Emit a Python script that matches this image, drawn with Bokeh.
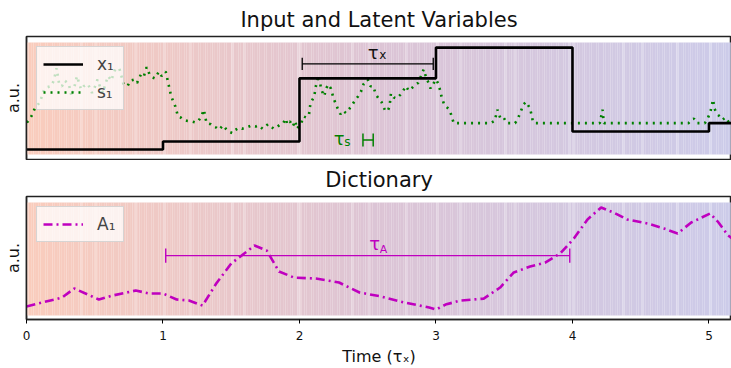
import numpy as np
from bokeh.plotting import figure
from bokeh.layouts import column
from bokeh.models import Range1d, FixedTicker
from bokeh.core.properties import value
from bokeh.embed import file_html
from bokeh.resources import INLINE

# ---------------- data ----------------
x1_t = [0, 1, 2, 3, 4, 5, 5.17]
x1_v = [0.045, 0.116, 0.68, 0.955, 0.205, 0.28, 0.28]

s1_t = [0.00, 0.01, 0.04, 0.06, 0.08, 0.10, 0.12, 0.13, 0.15, 0.18, 0.20, 0.22, 0.23, 0.24,
        0.26, 0.28, 0.31, 0.33, 0.35, 0.37, 0.40, 0.42, 0.45, 0.48, 0.50, 0.52, 0.54, 0.56,
        0.58, 0.60, 0.62, 0.65, 0.68, 0.70, 0.71, 0.74, 0.76, 0.79, 0.81, 0.84, 0.86, 0.88,
        0.90, 0.92, 0.94, 0.97, 0.99, 1.02, 1.04, 1.06, 1.09, 1.11, 1.13, 1.15, 1.18, 1.21,
        1.24, 1.26, 1.28, 1.30, 1.31, 1.32, 1.35, 1.37, 1.39, 1.41, 1.44, 1.46, 1.48, 1.51,
        1.53, 1.56, 1.58, 1.61, 1.63, 1.65, 1.68, 1.70, 1.73, 1.75, 1.77, 1.79, 1.81, 1.84,
        1.86, 1.88, 1.90, 1.91, 1.93, 1.95, 1.97, 1.98, 2.01, 2.03, 2.05, 2.07, 2.08, 2.10,
        2.11, 2.12, 2.14, 2.16, 2.18, 2.20, 2.21, 2.23, 2.25, 2.28, 2.30, 2.32, 2.34, 2.36,
        2.38, 2.41, 2.43, 2.45, 2.47, 2.50, 2.52, 2.54, 2.56, 2.58, 2.60, 2.63, 2.65, 2.66,
        2.67, 2.69, 2.71, 2.74, 2.76, 2.78, 2.80, 2.82, 2.85, 2.87, 2.89, 2.91, 2.93, 2.94,
        2.96, 2.98, 3.00, 3.02, 3.04, 3.06, 3.09, 3.11, 3.13, 3.20, 3.30, 3.40, 3.43, 3.45,
        3.47, 3.49, 3.52, 3.58, 3.60, 3.62, 3.64, 3.66, 3.69, 3.71, 3.72, 3.90, 4.10, 4.20,
        4.21, 4.22, 4.23, 4.50, 4.85, 4.87, 4.89, 4.91, 4.97, 4.99, 5.01, 5.03, 5.04, 5.06,
        5.08, 5.10, 5.12, 5.15, 5.17]
s1_v = [0.29, 0.295, 0.35, 0.41, 0.44, 0.47, 0.55, 0.58, 0.60, 0.61, 0.66, 0.77, 0.70, 0.62,
        0.61, 0.66, 0.63, 0.52, 0.60, 0.70, 0.58, 0.61, 0.63, 0.55, 0.60, 0.67, 0.60, 0.55,
        0.64, 0.70, 0.66, 0.76, 0.77, 0.68, 0.63, 0.61, 0.66, 0.67, 0.64, 0.72, 0.70, 0.78,
        0.72, 0.69, 0.68, 0.74, 0.70, 0.74, 0.63, 0.52, 0.43, 0.34, 0.33, 0.31, 0.30, 0.295,
        0.285, 0.30, 0.34, 0.40, 0.33, 0.28, 0.27, 0.25, 0.24, 0.22, 0.26, 0.23, 0.205, 0.19,
        0.22, 0.24, 0.23, 0.24, 0.25, 0.26, 0.25, 0.26, 0.23, 0.25, 0.27, 0.25, 0.23, 0.25,
        0.27, 0.28, 0.32, 0.27, 0.295, 0.25, 0.30, 0.23, 0.27, 0.34, 0.33, 0.36, 0.455, 0.50,
        0.535, 0.61, 0.705, 0.58, 0.52, 0.60, 0.625, 0.59, 0.50, 0.41, 0.36, 0.39, 0.37, 0.40,
        0.43, 0.49, 0.52, 0.56, 0.63, 0.67, 0.61, 0.61, 0.535, 0.50, 0.47, 0.385, 0.40, 0.43,
        0.545, 0.51, 0.50, 0.535, 0.57, 0.61, 0.57, 0.59, 0.625, 0.64, 0.70, 0.76, 0.68, 0.655,
        0.59, 0.63, 0.67, 0.625, 0.52, 0.445, 0.41, 0.36, 0.28, 0.28, 0.28, 0.28, 0.30, 0.40,
        0.33, 0.34, 0.28, 0.28, 0.32, 0.38, 0.445, 0.47, 0.41, 0.295, 0.28, 0.28, 0.28, 0.28,
        0.34, 0.40, 0.28, 0.28, 0.28, 0.31, 0.32, 0.28, 0.28, 0.32, 0.38, 0.49, 0.41, 0.36,
        0.34, 0.31, 0.33, 0.28, 0.28]

a1_t = [0.00, 0.26, 0.35, 0.53, 0.63, 0.80, 0.90, 1.00, 1.10, 1.19, 1.29, 1.39, 1.50, 1.67,
        1.76, 1.85, 1.96, 2.12, 2.29, 2.44, 2.60, 2.77, 2.95, 3.00, 3.07, 3.18, 3.35, 3.47,
        3.57, 3.69, 3.80, 3.91, 4.01, 4.11, 4.21, 4.30, 4.40, 4.55, 4.67, 4.77, 4.87, 5.01,
        5.07, 5.14, 5.17]
a1_v = [0.080, 0.159, 0.239, 0.142, 0.177, 0.221, 0.195, 0.195, 0.142, 0.133, 0.088, 0.283,
        0.460, 0.619, 0.575, 0.389, 0.336, 0.327, 0.292, 0.204, 0.168, 0.115, 0.071, 0.053,
        0.097, 0.133, 0.150, 0.248, 0.381, 0.434, 0.469, 0.549, 0.681, 0.850, 0.956, 0.912,
        0.850, 0.814, 0.770, 0.726, 0.823, 0.903, 0.823, 0.708, 0.681]

tau_x_span = [2.02, 2.98]
tau_s_span = [2.465, 2.54]
tau_a_span = [1.02, 3.98]
x_ticks = [0, 1, 2, 3, 4, 5]

# ---------------- styling helpers ----------------
FONT = value("DejaVu Sans")
GREEN = "#008000"
MAG = "#bf00bf"
X_END = 5.165
stops_t = [0.0, 2.58, 5.17]
stops_c = [(250, 204, 188), (220, 196, 213), (204, 203, 233)]


def add_background(p):
    n = 300
    edges = np.linspace(0, X_END + 0.01, n + 1)
    mids = 0.5 * (edges[:-1] + edges[1:])
    cols = []
    for i, m in enumerate(mids):
        rgb = [np.interp(m, stops_t, [c[k] for c in stops_c]) for k in range(3)]
        if (i * 37) % 23 == 0 or (i * 13) % 29 == 0:
            rgb = [v + (255 - v) * 0.25 for v in rgb]
        cols.append("#%02x%02x%02x" % tuple(int(round(v)) for v in rgb))
    p.quad(left=edges[:-1], right=edges[1:], bottom=0, top=1, fill_color=cols,
           line_color=None)


def style(p, title):
    p.title.text = title
    p.title.align = "center"
    p.title.text_font = "DejaVu Sans"
    p.title.text_font_size = "21px"
    p.title.text_font_style = "normal"
    p.title.text_color = "#111111"
    p.xgrid.visible = False
    p.ygrid.visible = False
    p.outline_line_color = "#222222"
    p.outline_line_width = 1.5
    p.yaxis.ticker = FixedTicker(ticks=[])
    p.yaxis.axis_label = "a.u."
    p.yaxis.axis_label_text_font = "DejaVu Sans"
    p.yaxis.axis_label_text_font_size = "16px"
    p.yaxis.axis_label_text_font_style = "normal"
    p.yaxis.axis_label_text_color = "#111111"
    p.yaxis.axis_label_standoff = 4
    p.yaxis.axis_line_color = "#222222"
    p.yaxis.axis_line_width = 1.5
    p.yaxis.major_label_text_font_size = "0px"
    p.background_fill_color = "white"
    p.border_fill_color = "white"


def txt(p, x, y, s, size, color):
    p.text(x=[x], y=[y], text=[s], text_font=FONT, text_font_size=size,
           text_align="center", text_baseline="middle", text_color=color)


def bracket(p, span, y, half, color, width):
    p.segment(x0=[span[0]], y0=[y], x1=[span[1]], y1=[y], line_color=color, line_width=width)
    p.segment(x0=span, y0=[y - half] * 2, x1=span, y1=[y + half] * 2,
              line_color=color, line_width=width)


def style_legend(lg):
    lg.location = "top_left"
    lg.margin = 10
    lg.padding = 6
    lg.spacing = 6
    lg.glyph_width = 40
    lg.glyph_height = 22
    lg.label_height = 22
    lg.label_standoff = 14
    lg.label_text_font = "DejaVu Sans"
    lg.label_text_font_size = "17px"
    lg.background_fill_alpha = 0.75
    lg.border_line_color = "#cccccc"
    lg.border_line_alpha = 0.8


# ---------------- top panel ----------------
p1 = figure(width=731, height=160, output_backend="svg", toolbar_location=None,
            x_range=Range1d(0, X_END), y_range=Range1d(-0.045, 1.054),
            min_border_left=25, min_border_right=0, min_border_top=36, min_border_bottom=1)
style(p1, "Input and Latent Variables")
p1.xaxis.visible = False
add_background(p1)

p1.line(s1_t, s1_v, line_color=GREEN, line_width=2.6, line_dash="2 5",
        legend_label="s₁")
p1.step(x1_t, x1_v, mode="after", line_color="black", line_width=2.6,
        legend_label="x₁")

bracket(p1, tau_x_span, 0.81, 0.055, "black", 1.3)
txt(p1, 2.54, 0.91, "τ", "18px", "#111111")
txt(p1, 2.61, 0.885, "x", "12px", "#111111")

bracket(p1, tau_s_span, 0.13, 0.058, GREEN, 1.5)
txt(p1, 2.29, 0.143, "τ", "18px", GREEN)
txt(p1, 2.35, 0.11, "s", "12px", GREEN)

lg = p1.legend[0]
lg.items = [lg.items[1], lg.items[0]]
style_legend(lg)

# ---------------- bottom panel ----------------
p2 = figure(width=731, height=208, output_backend="svg", toolbar_location=None,
            x_range=Range1d(0, X_END), y_range=Range1d(-0.035, 1.053),
            min_border_left=25, min_border_right=0, min_border_top=36, min_border_bottom=49)
style(p2, "Dictionary")
add_background(p2)

p2.line(a1_t, a1_v, line_color=MAG, line_width=2.6, line_dash="9 4 2 4",
        legend_label="A₁")

bracket(p2, tau_a_span, 0.53, 0.062, MAG, 1.4)
txt(p2, 2.55, 0.64, "τ", "18px", MAG)
txt(p2, 2.615, 0.585, "A", "11px", MAG)

p2.xaxis.ticker = FixedTicker(ticks=x_ticks)
p2.xaxis.major_label_text_font = "DejaVu Sans"
p2.xaxis.major_label_text_font_size = "12px"
p2.xaxis.major_label_text_color = "#111111"
p2.xaxis.major_label_standoff = 7
p2.xaxis.major_tick_in = 0
p2.xaxis.major_tick_out = 4
p2.xaxis.minor_tick_line_color = None
p2.xaxis.axis_line_color = "#222222"
p2.xaxis.axis_line_width = 1.5
p2.xaxis.axis_label = "Time (τₓ)"
p2.xaxis.axis_label_text_font = "DejaVu Sans"
p2.xaxis.axis_label_text_font_size = "16px"
p2.xaxis.axis_label_text_font_style = "normal"
p2.xaxis.axis_label_text_color = "#111111"
p2.xaxis.axis_label_standoff = 4

style_legend(p2.legend[0])

layout = column(p1, p2, spacing=0)
open("out.html", "w").write(file_html(layout, INLINE))
